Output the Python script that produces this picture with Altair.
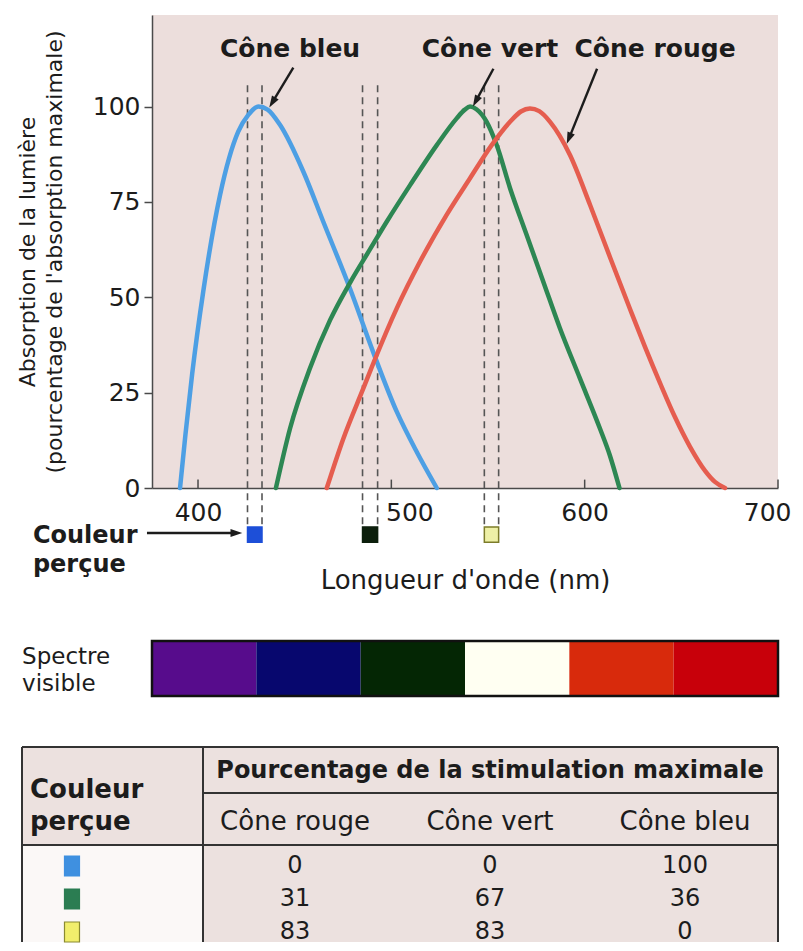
import math
import altair as alt
import pandas as pd

FONT = "DejaVu Sans"
INK = "#1c1c1c"
AXIS_GREY = "#4a4a4a"
PLOT_BG = "#ecdedc"
TABLE_BG = "#ece1df"

# ---------------- data ----------------
CONES = ["Cône bleu", "Cône vert", "Cône rouge"]
CONE_COLORS = ["#4d9fe4", "#2d8753", "#e55d4f"]

BLUE_NM = [390.7, 393.5, 397.0, 402.7, 411.4, 420.8, 426.0, 431.2, 436.0, 442.4, 454.5, 464.8,
           478.6, 490.7, 502.8, 513.1, 523.5]
BLUE_VAL = [0, 14, 30, 51.5, 76.8, 93.4, 97.8, 100, 99.2, 95.2, 82.9, 69.8,
            52.3, 35.5, 20.0, 9.5, 0]

GREEN_NM = [440.3, 447.6, 457.9, 468.3, 478.6, 489.0, 497.6, 509.7, 523.5, 533.8, 538.0, 540.7, 544.0,
            549.3, 554.5, 561.4, 570.0, 578.6, 587.2, 597.5, 607.9, 613.0, 618.0]
GREEN_VAL = [0, 15.6, 31.4, 44.0, 53.8, 62.6, 69.8, 79.4, 89.9, 96.9, 99.2, 100, 99.3,
             96.0, 89.9, 78.6, 66.3, 54.1, 41.9, 28.8, 15.6, 8.6, 0]

RED_NM = [466.6, 475.2, 485.5, 491.0, 502.8, 514.8, 528.6, 540.7, 551.9, 561.4, 567.0, 571.7, 576.5,
          582.1, 592.4, 602.8, 613.1, 623.4, 631.2, 639.0, 646.7, 654.5, 662.3, 667.4, 672.6]
RED_VAL = [0, 13.0, 26.1, 33.1, 47.1, 59.3, 71.6, 81.2, 89.9, 96.0, 98.7, 99.5, 98.8,
           96.0, 87.3, 74.2, 60.5, 47.0, 37.0, 27.5, 18.6, 10.8, 4.5, 1.6, 0]

X_TICKS = [400, 500, 600, 700]
Y_TICKS = [0, 25, 50, 75, 100]

# cone name labels and their arrows
LABEL_NM = [447.6, 551.0, 636.4]
LABEL_VAL = [113.0, 113.0, 113.0]
ARROW_TAIL_NM = [449.3, 552.8, 606.4]
ARROW_TAIL_VAL = [110.2, 109.9, 109.9]
ARROW_HEAD_NM = [438.6, 543.8, 592.0]
ARROW_HEAD_VAL = [101.2, 101.5, 91.8]

# perceived colours (wavelength windows)
PERCEIVED_LO_NM = [425.6, 485.1, 548.1]
PERCEIVED_HI_NM = [433.1, 492.9, 555.5]
PERCEIVED_FILL = ["#1d4fd8", "#0c1f0c", "#eef0a6"]
PERCEIVED_STROKE = ["#1d4fd8", "#0c1f0c", "#7c7c2a"]

# visible spectrum bands
SPECTRUM_COLORS = ["#570c8c", "#07076e", "#042604", "#fffff2", "#d82a0c", "#c8000a"]

# table
TABLE_SWATCH = ["#3f90e0", "#2b7d52", "#f1ee6c"]
TABLE_SWATCH_STROKE = ["#3f90e0", "#2b7d52", "#8a8a30"]
STIM_ROUGE = [0, 31, 83]
STIM_VERT = [0, 67, 83]
STIM_BLEU = [100, 36, 0]
SUBHEADERS = ["Cône rouge", "Cône vert", "Cône bleu"]

# ---------------- main panel ----------------
X_MIN, X_MAX = 376.2, 700.0
Y_MIN, Y_MAX = 0.0, 124.0
W, H = 626, 473
PX_NM = W / (X_MAX - X_MIN)
PX_VAL = H / (Y_MAX - Y_MIN)

x_scale = alt.Scale(domain=[X_MIN, X_MAX], nice=False, zero=False)
y_scale = alt.Scale(domain=[Y_MIN, Y_MAX], nice=False, zero=False)

x_axis = alt.Axis(
    values=X_TICKS, format="d", title="Longueur d'onde (nm)", grid=False,
    ticks=False, tickSize=0, labelPadding=12, labelFontSize=25, labelColor=INK,
    labelFlush=True, labelFlushOffset=13,
    labelOffset={"condition": {"test": "datum.value === 500", "value": 18}, "value": 0},
    titleFontSize=26, titleFontWeight="normal", titleColor=INK, titlePadding=42,
    domainColor=AXIS_GREY, domainWidth=1.5,
)
y_axis = alt.Axis(
    values=Y_TICKS, grid=False,
    title=["Absorption de la lumière", "(pourcentage de l'absorption maximale)"],
    tickSize=8, tickColor=AXIS_GREY, tickWidth=1.5, labelPadding=4, labelFontSize=25,
    labelColor=INK, titleFontSize=22, titleFontWeight="normal", titleColor=INK,
    titlePadding=26, titleLineHeight=27, titleLimit=600, domainColor=AXIS_GREY, domainWidth=1.5,
)


def X(field):
    return alt.X(field, type="quantitative", scale=x_scale, axis=x_axis)


def Y(field):
    return alt.Y(field, type="quantitative", scale=y_scale, axis=y_axis)


def YD(value):
    return alt.YDatum(value, type="quantitative", scale=y_scale, axis=y_axis)


curves = pd.concat([
    pd.DataFrame({"nm": BLUE_NM, "val": BLUE_VAL, "cone": CONES[0]}),
    pd.DataFrame({"nm": GREEN_NM, "val": GREEN_VAL, "cone": CONES[1]}),
    pd.DataFrame({"nm": RED_NM, "val": RED_VAL, "cone": CONES[2]}),
])

lines = alt.Chart(curves).mark_line(strokeWidth=4.5, interpolate="monotone", strokeCap="round").encode(
    x=X("nm"), y=Y("val"),
    color=alt.Color("cone:N", scale=alt.Scale(domain=CONES, range=CONE_COLORS), legend=None),
    detail="cone:N",
)

# inward tick marks on the x axis
xticks = alt.Chart(pd.DataFrame({"nm": X_TICKS})).mark_rule(color=AXIS_GREY, strokeWidth=1.5).encode(
    x=X("nm"), y=YD(0.0), y2=alt.Y2Datum(2.2),
)

# dashed guides for perceived colours
dash_nm = PERCEIVED_LO_NM + PERCEIVED_HI_NM
dashes = alt.Chart(pd.DataFrame({"nm": dash_nm})).mark_rule(
    color="#555555", strokeWidth=1.6, strokeDash=[7, 5]
).encode(
    x=X("nm"), y=YD(105.6), y2=alt.Y2Datum(-10.2),
)

perceived = alt.Chart(pd.DataFrame({
    "lo": PERCEIVED_LO_NM, "hi": PERCEIVED_HI_NM, "fill": PERCEIVED_FILL, "stroke": PERCEIVED_STROKE,
})).mark_rect(strokeWidth=1.5).encode(
    x=X("lo"), x2="hi", y=YD(-10.2), y2=alt.Y2Datum(-14.2),
    fill=alt.Fill("fill:N", scale=None), stroke=alt.Stroke("stroke:N", scale=None),
)

cone_labels = alt.Chart(pd.DataFrame({"nm": LABEL_NM, "val": LABEL_VAL, "txt": CONES})).mark_text(
    fontSize=25, fontWeight="bold", color=INK, baseline="alphabetic", align="center"
).encode(x=X("nm"), y=Y("val"), text="txt:N")

# arrows (cone labels + "Couleur perçue")
arrow_df = pd.DataFrame({
    "x1": ARROW_TAIL_NM + [373.6], "y1": ARROW_TAIL_VAL + [-11.8],
    "x2": ARROW_HEAD_NM + [419.5], "y2": ARROW_HEAD_VAL + [-11.8],
})
arrow_df["ang"] = [
    math.degrees(math.atan2((r.x2 - r.x1) * PX_NM, (r.y2 - r.y1) * PX_VAL)) % 360
    for r in arrow_df.itertuples()
]
shafts = alt.Chart(arrow_df).mark_rule(color=INK, strokeWidth=2.4).encode(
    x=X("x1"), x2="x2", y=Y("y1"), y2="y2"
)
heads = alt.Chart(arrow_df).mark_point(
    shape="M0,-1L0.6,0.8L-0.6,0.8Z", filled=True, size=170, color=INK, opacity=1, strokeWidth=0
).encode(x=X("x2"), y=Y("y2"), angle=alt.Angle("ang:Q", scale=None))

side_text = alt.Chart(pd.DataFrame({
    "nm": [314.6, 314.6], "val": [-14.4, -22.0], "txt": ["Couleur", "perçue"],
})).mark_text(fontSize=24, fontWeight="bold", color=INK, align="left", baseline="alphabetic").encode(
    x=X("nm"), y=Y("val"), text="txt:N"
)

# visible spectrum strip
step = (X_MAX - X_MIN) / len(SPECTRUM_COLORS)
spec_df = pd.DataFrame({
    "lo": [X_MIN + i * step for i in range(len(SPECTRUM_COLORS))],
    "hi": [X_MIN + (i + 1) * step for i in range(len(SPECTRUM_COLORS))],
    "fill": SPECTRUM_COLORS,
})
spectrum = alt.Chart(spec_df).mark_rect().encode(
    x=X("lo"), x2="hi", y=YD(-40.1), y2=alt.Y2Datum(-54.5),
    fill=alt.Fill("fill:N", scale=None),
)
spectrum_frame = alt.Chart(pd.DataFrame({"lo": [X_MIN], "hi": [X_MAX]})).mark_rect(
    fill=None, stroke="#111111", strokeWidth=2.5
).encode(
    x=X("lo"), x2="hi", y=YD(-40.1), y2=alt.Y2Datum(-54.5),
)
spectrum_text = alt.Chart(pd.DataFrame({
    "nm": [309.0, 309.0], "val": [-44.3, -51.4], "txt": ["Spectre", "visible"],
})).mark_text(fontSize=23, color=INK, align="left", baseline="middle").encode(
    x=X("nm"), y=Y("val"), text="txt:N"
)

main = alt.layer(
    dashes, lines, xticks, perceived, cone_labels, shafts, heads, side_text,
    spectrum, spectrum_frame, spectrum_text,
).properties(width=W, height=H, view=alt.ViewBackground(fill=PLOT_BG, stroke=None))

# ---------------- table panel ----------------
C_MIN, C_MAX = -0.7333, 2.4769
R_MIN, R_MAX = -3.606, 2.303
TW, TH = 626, 195
T_LEFT, T_SEP, T_RIGHT = -1.40, -0.4718, C_MAX
T_TOP, T_BOTTOM = R_MIN, R_MAX
T_HEAD_LINE, T_SUB_LINE = -2.212, -0.636
T_TEXT_LEFT, T_SWATCH = -1.359, -1.1436
T_HEAD_BASE, T_COULEUR_BASE, T_SUB_BASE = -2.667, -2.061, -1.091

cx_scale = alt.Scale(domain=[C_MIN, C_MAX], nice=False, zero=False)
ry_scale = alt.Scale(domain=[R_MIN, R_MAX], nice=False, zero=False, reverse=True)


def CX(field):
    return alt.X(field, type="quantitative", scale=cx_scale, axis=None)


def RY(field):
    return alt.Y(field, type="quantitative", scale=ry_scale, axis=None)


bg_df = pd.DataFrame({
    "x1": [T_LEFT, T_SEP, T_LEFT], "x2": [T_RIGHT, T_RIGHT, T_SEP],
    "y1": [T_TOP, T_SUB_LINE, T_SUB_LINE], "y2": [T_SUB_LINE, T_BOTTOM, T_BOTTOM],
    "fill": [TABLE_BG, TABLE_BG, "#fbf8f7"],
})
t_bg = alt.Chart(bg_df).mark_rect().encode(
    x=CX("x1"), x2="x2", y=RY("y1"), y2="y2", fill=alt.Fill("fill:N", scale=None)
)

rules_df = pd.DataFrame({
    "x1": [T_LEFT, T_SEP, T_LEFT, T_LEFT, T_SEP, T_RIGHT],
    "x2": [T_RIGHT, T_RIGHT, T_RIGHT, T_LEFT, T_SEP, T_RIGHT],
    "y1": [T_TOP, T_HEAD_LINE, T_SUB_LINE, T_TOP, T_TOP, T_TOP],
    "y2": [T_TOP, T_HEAD_LINE, T_SUB_LINE, T_BOTTOM, T_BOTTOM, T_BOTTOM],
})
t_rules = alt.Chart(rules_df).mark_rule(color="#333333", strokeWidth=2).encode(
    x=CX("x1"), x2="x2", y=RY("y1"), y2="y2"
)

t_header = alt.Chart(pd.DataFrame({
    "c": [1], "r": [T_HEAD_BASE], "txt": ["Pourcentage de la stimulation maximale"],
})).mark_text(fontSize=24, fontWeight="bold", color=INK, baseline="alphabetic").encode(
    x=CX("c"), y=RY("r"), text="txt:N"
)
t_left_head = alt.Chart(pd.DataFrame({
    "c": [T_TEXT_LEFT, T_TEXT_LEFT], "r": [T_COULEUR_BASE, T_SUB_BASE], "txt": ["Couleur", "perçue"],
})).mark_text(fontSize=26, fontWeight="bold", color=INK, align="left", baseline="alphabetic").encode(
    x=CX("c"), y=RY("r"), text="txt:N"
)
t_sub = alt.Chart(pd.DataFrame({
    "c": list(range(len(SUBHEADERS))), "r": [T_SUB_BASE] * 3, "txt": SUBHEADERS,
})).mark_text(fontSize=26, color=INK, baseline="alphabetic").encode(
    x=CX("c"), y=RY("r"), text="txt:N"
)

num_rows = []
for j in range(3):
    for k, col in enumerate([STIM_ROUGE, STIM_VERT, STIM_BLEU]):
        num_rows.append({"c": k, "r": j, "txt": str(col[j])})
t_nums = alt.Chart(pd.DataFrame(num_rows)).mark_text(
    fontSize=24, color=INK, baseline="middle"
).encode(x=CX("c"), y=RY("r"), text="txt:N")

t_swatch = alt.Chart(pd.DataFrame({
    "c": [T_SWATCH] * 3, "r": [0, 1, 2], "fill": TABLE_SWATCH, "stroke": TABLE_SWATCH_STROKE,
})).mark_point(shape="M-0.75,-1H0.75V1H-0.75Z", filled=True, size=400, strokeWidth=1.2, opacity=1).encode(
    x=CX("c"), y=RY("r"), fill=alt.Fill("fill:N", scale=None), stroke=alt.Stroke("stroke:N", scale=None)
)

table = alt.layer(t_bg, t_rules, t_header, t_left_head, t_sub, t_nums, t_swatch).properties(
    width=TW, height=TH, view=alt.ViewBackground(fill=None, stroke=None)
)

chart = alt.vconcat(main, table, spacing=259, bounds="flush").configure(
    font=FONT, background="white",
    padding={"left": 8, "top": 7, "right": 0, "bottom": 0},
).configure_view(stroke=None)

chart.save("out.html", embed_options={"renderer": "svg", "actions": False})
